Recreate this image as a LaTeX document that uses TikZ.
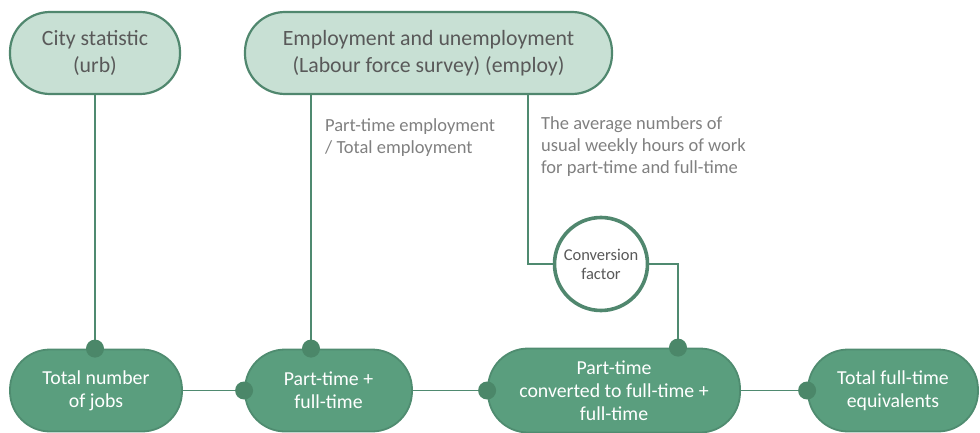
\documentclass[tikz,border=0pt]{standalone}
\usepackage{fontspec}
\setmainfont{Carlito}
\begin{document}
\definecolor{srcfill}{HTML}{C8E0D4}
\definecolor{srcline}{HTML}{50876E}
\definecolor{stepfill}{HTML}{5A9E7E}
\definecolor{stepline}{HTML}{4F8C70}
\definecolor{dotcol}{HTML}{4B8769}
\definecolor{linkcol}{HTML}{4F8A70}
\definecolor{darktext}{HTML}{595959}
\definecolor{notetext}{HTML}{808080}
\begin{tikzpicture}[x=1pt,y=-1pt,
  srcbox/.style={draw=srcline,line width=2.2pt,fill=srcfill,rounded corners=40pt,
    minimum height=82pt,align=center,text=darktext,font=\fontsize{21.8}{27}\selectfont,inner sep=0pt},
  stepbox/.style={draw=stepline,line width=1.8pt,fill=stepfill,rounded corners=40pt,
    minimum height=82pt,align=center,text=white,font=\fontsize{19.8}{23}\selectfont,inner sep=0pt},
  factor/.style={circle,draw=srcline,line width=3.6pt,fill=white,minimum size=93pt,
    align=center,text=darktext,font=\fontsize{16.5}{19}\selectfont,inner sep=0pt},
  link/.style={draw=linkcol,line width=1.6pt},
  note/.style={anchor=north west,align=left,text=notetext,font=\fontsize{18.5}{22}\selectfont,inner sep=0pt},
  knob/.style={fill=dotcol,circle,minimum size=18pt,inner sep=0pt}]
\useasboundingbox (0,0) rectangle (980,433);

% source boxes
\node[srcbox,minimum width=170pt] (city) at (95,53) {City statistic\\(urb)};
\node[srcbox,minimum width=367pt] (emp) at (428.5,53) {Employment and unemployment\\(Labour force survey) (employ)};

% calculation steps
\node[stepbox,minimum width=172pt] (jobs) at (96,390.5) {Total number\\of jobs};
\node[stepbox,minimum width=167pt] (ptft) at (328.5,390.5) {Part-time +\\full-time};
\node[stepbox,minimum width=252pt,minimum height=84pt] (conv) at (614,390.5) {Part-time\\converted to full-time +\\full-time};
\node[stepbox,minimum width=170pt] (fte) at (893,390.5) {Total full-time\\equivalents};

% conversion factor
\node[factor] (cf) at (601,264) {Conversion\\factor};

% helper columns for the vertical links
\coordinate (xshare) at (311,0);
\coordinate (xhours) at (528,0);
\coordinate (xfactor) at (678,0);

% vertical links
\draw[link] (city.south) -- (city.south |- jobs.north);
\draw[link] (emp.south -| xshare) -- (ptft.north -| xshare);
\draw[link] (emp.south -| xhours) |- (cf.west);
\draw[link] (cf.east) -| (conv.north -| xfactor);

% horizontal links
\draw[link] (jobs.east) -- (ptft.west);
\draw[link] (ptft.east) -- (conv.west);
\draw[link] (conv.east) -- (fte.west);

% connection knobs
\node[knob] (k1) at (city.south |- jobs.north) {};
\node[knob] (k2) at (ptft.north -| xshare) {};
\node[knob] (k3) at (conv.north -| xfactor) {};
\node[knob] (k4) at (ptft.west) {};
\node[knob] (k5) at (conv.west) {};
\node[knob] (k6) at (fte.west) {};

% notes
\node[note] (n1) at (325,118) {Part-time employment\\/ Total employment};
\node[note] (n2) at (541,116) {The average numbers of\\usual weekly hours of work\\for part-time and full-time};
\end{tikzpicture}
\end{document}
